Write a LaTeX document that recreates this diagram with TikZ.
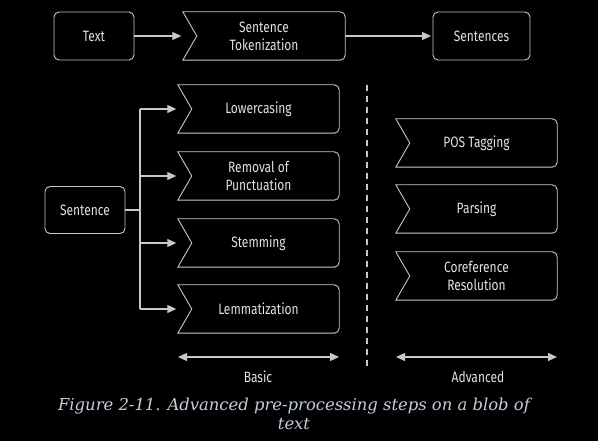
\documentclass[tikz,border=0pt]{standalone}
\usepackage{fontspec}
\usetikzlibrary{arrows.meta}
\newfontfamily\boxfont{Fira Sans}[FakeStretch=0.8]
\newfontfamily\capfont{DejaVu Serif}
\definecolor{lineg}{RGB}{200,200,200}
\definecolor{textg}{RGB}{225,225,225}
\definecolor{capc}{RGB}{195,205,222}
\begin{document}
\begin{tikzpicture}[x=1pt,y=-1pt,
  every node/.style={inner sep=0pt},
  lbl/.style={font=\boxfont\fontsize{15pt}{18pt}\selectfont, text=textg, align=center},
  rbox/.style={lbl, draw=lineg, line width=0.9pt, rounded corners=5pt, minimum height=48pt},
  cbox/.style={lbl, minimum width=161pt, minimum height=48pt},
  outl/.style={draw=lineg, line width=0.9pt},
  arr/.style={draw=lineg, line width=1.1pt, -{Triangle[length=9pt,width=8pt]}, shorten >=1.5pt},
  darr/.style={draw=lineg, line width=1.1pt, {Triangle[length=9pt,width=8pt]}-{Triangle[length=9pt,width=8pt]}}
]
\fill[black] (0,0) rectangle (598,441);
\useasboundingbox (0,0) rectangle (598,441);

% top row
\node[rbox, minimum width=80pt] (text) at (94,36) {Text};
\node[cbox, minimum width=162pt] (tok) at (264,36) {Sentence\\Tokenization};
\node[rbox, minimum width=97pt] (sents) at (481.5,36) {Sentences};

% left column
\node[rbox, minimum width=80pt, minimum height=47pt] (sent) at (85,210) {Sentence};
\node[cbox] (low) at (258.5,109) {Lowercasing};
\node[cbox] (rem) at (258.5,176) {Removal of\\Punctuation};
\node[cbox] (stem) at (258.5,243) {Stemming};
\node[cbox] (lem) at (258.5,309) {Lemmatization};

% right column
\node[cbox] (pos) at (476.5,143) {POS Tagging};
\node[cbox] (par) at (476.5,209) {Parsing};
\node[cbox] (cor) at (476.5,276) {Coreference\\Resolution};

% chevron outlines
\foreach \n in {tok,low,rem,stem,lem,pos,par,cor}{
  \draw[outl] (\n.north west) -- ([xshift=14pt]\n.west) -- (\n.south west)
    -- ([xshift=-5pt]\n.south east) arc[start angle=-90,end angle=0,radius=5pt]
    -- ([yshift=-5pt]\n.north east) arc[start angle=0,end angle=90,radius=5pt]
    -- cycle;
}

% connectors
\draw[arr] (text.east) -- (tok.west);
\draw[arr] (tok.east) -- (sents.west);

\coordinate (br) at (140,210);
\draw[draw=lineg, line width=1.1pt] (sent.east) -- (br);
\draw[draw=lineg, line width=1.1pt] (br |- low.west) -- (br |- lem.west);
\draw[arr] (br |- low.west) -- (low.west);
\draw[arr] (br |- rem.west) -- (rem.west);
\draw[arr] (br |- stem.west) -- (stem.west);
\draw[arr] (br |- lem.west) -- (lem.west);

% divider
\coordinate (d1) at (367,85);
\coordinate (d2) at (367,370);
\draw[draw=lineg, line width=1.1pt, dash pattern=on 6pt off 5pt] (d1) -- (d2);

% range arrows
\coordinate (b1) at (178,357);
\coordinate (b2) at (339,357);
\coordinate (a1) at (396,357);
\coordinate (a2) at (557,357);
\draw[darr] (b1) -- (b2);
\draw[darr] (a1) -- (a2);
\node[lbl] (basic) at (258,377) {Basic};
\node[lbl] (adv) at (478,377) {Advanced};

% caption
\node[font=\capfont\itshape\fontsize{16.4pt}{19pt}\selectfont, text=capc, align=center] (cap) at (294,414)
  {Figure 2-11. Advanced pre-processing steps on a blob of\\text};
\end{tikzpicture}
\end{document}
